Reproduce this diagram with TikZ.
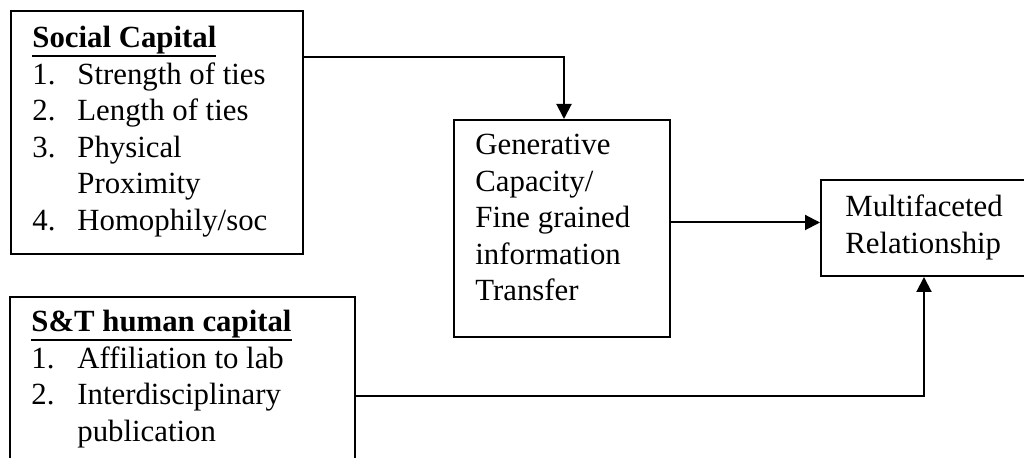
\documentclass[tikz,border=0pt]{standalone}
\usepackage{fontspec}
\setmainfont{Liberation Serif}
\usetikzlibrary{arrows.meta}
\newcommand\myul[1]{\setbox0\hbox{#1}\rlap{\rule[-4.5pt]{\wd0}{0.9pt}}\box0}
\begin{document}
\begin{tikzpicture}[x=0.5pt,y=-0.5pt,
  box/.style={draw=black,line width=1pt,rectangle,inner sep=0pt,anchor=north west},
  txt/.style={inner sep=0pt,anchor=base west,font=\fontsize{15.4pt}{18.25pt}\selectfont},
  arr/.style={line width=1pt,-{Triangle[length=7.5pt,width=7.5pt]}}]
\useasboundingbox (0,0) rectangle (1024,458);
\clip (0,0) rectangle (1024,458);
\fill[white] (0,0) rectangle (1024,458);
% boxes
\node[box,minimum width=146pt,minimum height=121.5pt] (sc) at (10,10) {};
\node[box,minimum width=172.5pt,minimum height=99pt] (st) at (9,296) {};
\node[box,minimum width=108pt,minimum height=108.5pt] (gen) at (453,119) {};
\node[box,minimum width=130pt,minimum height=48pt] (multi) at (820,179) {};
% texts
\node[txt] (sctext) at (32,48) {\begin{tabular}[t]{@{}p{22.5pt}@{}l@{}}
\multicolumn{2}{@{}l@{}}{\myul{\textbf{Social Capital}}}\\
1. & Strength of ties\\
2. & Length of ties\\
3. & Physical\\
   & Proximity\\
4. & Homophily/soc
\end{tabular}};
\node[txt] (sttext) at (31,332) {\begin{tabular}[t]{@{}p{23pt}@{}l@{}}
\multicolumn{2}{@{}l@{}}{\myul{\textbf{S\&T human capital}}}\\
1. & Affiliation to lab\\
2. & Interdisciplinary\\
   & publication
\end{tabular}};
\node[txt] (gentext) at (475,155) {\begin{tabular}[t]{@{}l@{}}
Generative\\ Capacity/\\ Fine grained\\ information\\ Transfer
\end{tabular}};
\node[txt] (multitext) at (845,217) {\begin{tabular}[t]{@{}l@{}}
Multifaceted\\ Relationship
\end{tabular}};
% connectors
\draw[arr] ([yshift=-23.5pt]sc.north east) -| ([xshift=55.5pt]gen.north west);
\draw[arr] ([yshift=3pt]gen.east) -- ([yshift=3pt]gen.east -| multi.west);
\draw[arr] (st.east) -| ([xshift=52pt]multi.south west);
\end{tikzpicture}
\end{document}
